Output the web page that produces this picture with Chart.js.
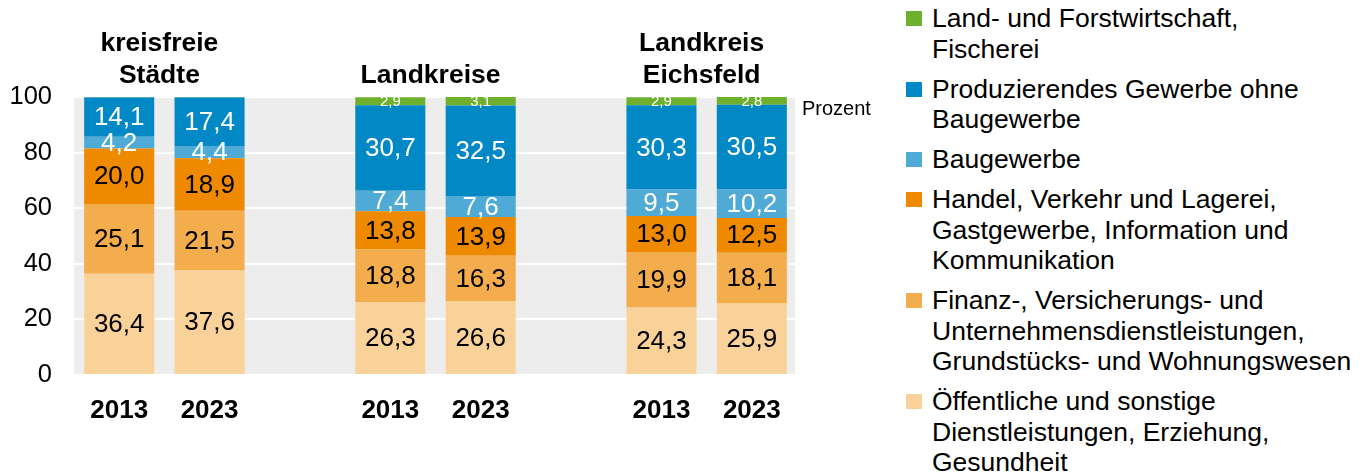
<!DOCTYPE html>
<html>
<head>
<meta charset="utf-8">
<script src="https://cdn.jsdelivr.net/npm/chart.js@4.4.1/dist/chart.umd.min.js"></script>
<style>
  html, body { margin: 0; padding: 0; background: #fff; }
  body { width: 1371px; height: 475px; position: relative; overflow: hidden; font-family: 'Liberation Sans', Arial, sans-serif; }
  #wrap { position: absolute; left: 0; top: 0; width: 900px; height: 475px; }
  #legend { position: absolute; left: 906px; top: 3px; font-size: 26.5px; line-height: 30.5px; color: #000; }
  .item { position: relative; padding-left: 26px; margin-bottom: 9.5px; white-space: nowrap; }
  .sw { position: absolute; left: 0; top: 8px; width: 16px; height: 15px; }
</style>
</head>
<body>
<div id="wrap"><canvas id="c"></canvas></div>
<div id="legend"></div>
<script>
// ---- data ----
const categories = ['2013', '2023', '', '2013', '2023', '', '2013', '2023'];
const groupTitles = [['kreisfreie', 'Städte'], ['Landkreise'], ['Landkreis', 'Eichsfeld']];
const groupSlots = [[0, 1], [3, 4], [6, 7]];
const yTicks = [0, 20, 40, 60, 80, 100];

const oeffentlich = [36.4, 37.6, null, 26.3, 26.6, null, 24.3, 25.9];
const finanz      = [25.1, 21.5, null, 18.8, 16.3, null, 19.9, 18.1];
const handel      = [20.0, 18.9, null, 13.8, 13.9, null, 13.0, 12.5];
const bau         = [4.2, 4.4, null, 7.4, 7.6, null, 9.5, 10.2];
const produz      = [14.1, 17.4, null, 30.7, 32.5, null, 30.3, 30.5];
const land        = [0.2, 0.2, null, 2.9, 3.1, null, 2.9, 2.8];

const seriesNames = [
  ['Land- und Forstwirtschaft,', 'Fischerei'],
  ['Produzierendes Gewerbe ohne', 'Baugewerbe'],
  ['Baugewerbe'],
  ['Handel, Verkehr und Lagerei,', 'Gastgewerbe, Information und', 'Kommunikation'],
  ['Finanz-, Versicherungs- und', 'Unternehmensdienstleistungen,', 'Grundstücks- und Wohnungswesen'],
  ['Öffentliche und sonstige', 'Dienstleistungen, Erziehung,', 'Gesundheit']
];
const unitLabel = 'Prozent';

// ---- styles ----
const FONT = "'Liberation Sans', Arial, sans-serif";
const colors = {
  land: '#6FAF2E', produz: '#0288C5', bau: '#4FAAD5',
  handel: '#EF8A00', finanz: '#F4AD4C', oeff: '#F9D29A'
};

const datasets = [
  { label: seriesNames[5].join(' '), data: oeffentlich, backgroundColor: colors.oeff, labelColor: '#000', labelSize: 26 },
  { label: seriesNames[4].join(' '), data: finanz, backgroundColor: colors.finanz, labelColor: '#000', labelSize: 26 },
  { label: seriesNames[3].join(' '), data: handel, backgroundColor: colors.handel, labelColor: '#000', labelSize: 26 },
  { label: seriesNames[2].join(' '), data: bau, backgroundColor: colors.bau, labelColor: '#fff', labelSize: 26 },
  { label: seriesNames[1].join(' '), data: produz, backgroundColor: colors.produz, labelColor: '#fff', labelSize: 26 },
  { label: seriesNames[0].join(' '), data: land, backgroundColor: colors.land, labelColor: '#fff', labelSize: 15, minLabel: 1 }
];

// legend (HTML)
const legendColors = [colors.land, colors.produz, colors.bau, colors.handel, colors.finanz, colors.oeff];
const legendEl = document.getElementById('legend');
seriesNames.forEach((lines, i) => {
  const d = document.createElement('div');
  d.className = 'item';
  d.innerHTML = '<span class="sw" style="background:' + legendColors[i] + '"></span>' + lines.join('<br>');
  legendEl.appendChild(d);
});

const bgPlugin = {
  id: 'bg',
  beforeDraw(chart) {
    const { ctx, chartArea: a } = chart;
    ctx.save();
    ctx.fillStyle = '#EDEDED';
    ctx.fillRect(a.left, a.top, a.right - a.left - 2, a.bottom - a.top);
    ctx.restore();
  }
};

const labelPlugin = {
  id: 'labels',
  afterDatasetsDraw(chart) {
    const { ctx } = chart;
    ctx.save();
    ctx.textAlign = 'center';
    ctx.textBaseline = 'middle';
    chart.data.datasets.forEach((ds, di) => {
      const meta = chart.getDatasetMeta(di);
      meta.data.forEach((el, i) => {
        const v = ds.data[i];
        if (v == null) return;
        if (ds.minLabel && v < ds.minLabel) return;
        ctx.fillStyle = ds.labelColor;
        ctx.font = ds.labelSize + 'px ' + FONT;
        const y = (el.y + el.base) / 2 + 1;
        ctx.fillText(v.toFixed(1).replace('.', ','), el.x, y);
      });
    });
    // group titles
    const xs = chart.scales.x;
    ctx.fillStyle = '#000';
    ctx.font = 'bold 26.5px ' + FONT;
    ctx.textBaseline = 'alphabetic';
    groupTitles.forEach((lines, g) => {
      const cx = (xs.getPixelForValue(groupSlots[g][0]) + xs.getPixelForValue(groupSlots[g][1])) / 2 - 5;
      const n = lines.length;
      lines.forEach((t, li) => {
        ctx.fillText(t, cx, 83 - (n - 1 - li) * 32);
      });
    });
    // unit label
    ctx.font = '20px ' + FONT;
    ctx.textAlign = 'left';
    ctx.textBaseline = 'middle';
    ctx.fillText(unitLabel, chart.chartArea.right + 5, chart.scales.y.getPixelForValue(95.5));
    ctx.restore();
  }
};

new Chart(document.getElementById('c'), {
  type: 'bar',
  data: { labels: categories, datasets },
  options: {
    responsive: true,
    maintainAspectRatio: false,
    animation: false,
    layout: { padding: { top: 97, right: 103, left: 0, bottom: 0 } },
    plugins: { legend: { display: false }, tooltip: { enabled: false } },
    datasets: { bar: { barPercentage: 0.775, categoryPercentage: 1.0, borderWidth: 0 } },
    scales: {
      x: {
        stacked: true,
        grid: { display: false, drawTicks: false },
        border: { display: false },
        ticks: { color: '#000', font: { family: FONT, size: 26, weight: 'bold' }, padding: 20, maxRotation: 0, autoSkip: false },
        afterFit(s) { s.height = 100; }
      },
      y: {
        stacked: true,
        min: 0, max: 100,
        afterBuildTicks(s) { s.ticks = yTicks.map(v => ({ value: v })); },
        grid: { color: '#fff', lineWidth: 2, drawTicks: false },
        border: { display: false },
        ticks: { color: '#000', font: { family: FONT, size: 25.5 }, padding: 22 },
        afterFit(s) { s.width = 74; }
      }
    }
  },
  plugins: [bgPlugin, labelPlugin]
});
</script>
</body>
</html>
